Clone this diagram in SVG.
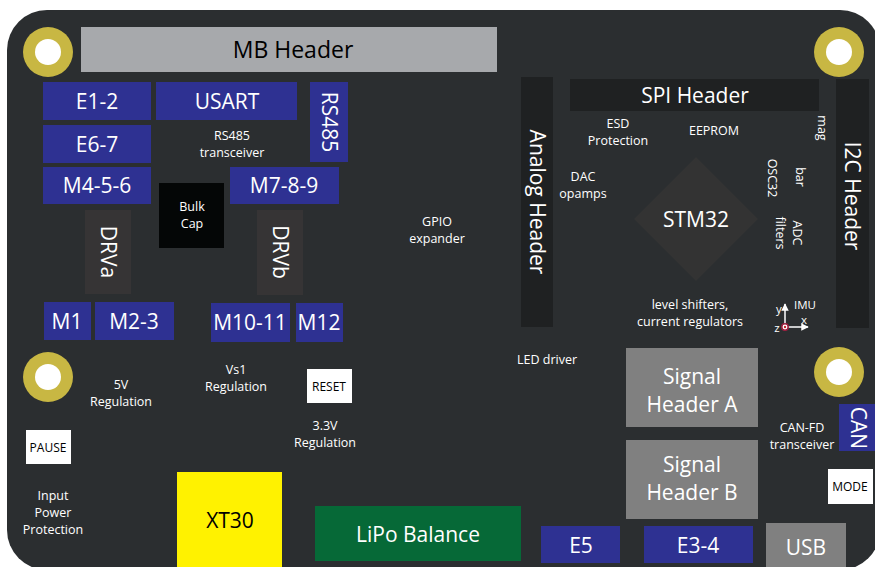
<svg xmlns="http://www.w3.org/2000/svg" width="875" height="567" viewBox="0 0 875 567">
<defs>
<style>
text{font-family:"Open Sans","Noto Sans",sans-serif;fill:#fff;text-anchor:middle}
.big{font-size:21px}
.sm{font-size:12.5px}
.xs{font-size:11.5px}
.blk{fill:#000}
.blue{fill:#2e3192}
.gray{fill:#808080}
.hdr{fill:#1f2122}
.drv{fill:#363435}
.wht{fill:#fff}
.gold{fill:#c8b743}
</style>
<marker id="ah" viewBox="0 0 10 10" refX="9" refY="5" markerWidth="5" markerHeight="5" orient="auto"><path d="M0,0L10,5L0,10z" fill="#fff"/></marker>
</defs>
<rect width="875" height="567" fill="#fff"/>
<rect id="board" x="7" y="10" width="873" height="560" rx="40" fill="#2b2e30"/>

<g id="hole-tl"><circle cx="48" cy="52" r="25" class="gold"/><circle cx="48" cy="52" r="13" class="wht"/></g>
<g id="hole-tr"><circle cx="839" cy="52" r="25" class="gold"/><circle cx="839" cy="52" r="13" class="wht"/></g>
<g id="hole-bl"><circle cx="48" cy="377" r="25" class="gold"/><circle cx="48" cy="377" r="13" class="wht"/></g>
<g id="hole-r"><circle cx="839" cy="372" r="25" class="gold"/><circle cx="839" cy="372" r="13" class="wht"/></g>

<g id="mb-header"><rect x="81" y="27" width="416" height="45" fill="#a7a9ac"/><text x="293" y="58" class="big blk" style="font-size:23px">MB Header</text></g>
<g id="e1-2"><rect x="43" y="82" width="108" height="38" class="blue"/><text x="97" y="109" class="big">E1-2</text></g>
<g id="usart"><rect x="156" y="82" width="141" height="38" class="blue"/><text x="227" y="109" class="big">USART</text></g>
<g id="rs485"><rect x="310" y="82" width="38" height="80" class="blue"/><text transform="translate(329,122) rotate(90)" dy="7" class="big">RS485</text></g>
<g id="e6-7"><rect x="43" y="125" width="108" height="38" class="blue"/><text x="97" y="152" class="big">E6-7</text></g>
<g id="rs485-xcvr"><text x="232" y="140" class="sm">RS485</text><text x="232" y="157" class="sm">transceiver</text></g>
<g id="m4-5-6"><rect x="43" y="167" width="108" height="37" class="blue"/><text x="97" y="193" class="big">M4-5-6</text></g>
<g id="m7-8-9"><rect x="230" y="167" width="109" height="37" class="blue"/><text x="284" y="193" class="big">M7-8-9</text></g>
<g id="bulk-cap"><rect x="159" y="183" width="65" height="65" fill="#040606"/><text x="192" y="211" class="sm">Bulk</text><text x="192" y="228" class="sm">Cap</text></g>
<g id="drva"><rect x="85" y="210" width="46" height="84" class="drv"/><text transform="translate(108,252) rotate(90)" dy="7" class="big">DRVa</text></g>
<g id="drvb"><rect x="257" y="210" width="46" height="85" class="drv"/><text transform="translate(280,252) rotate(90)" dy="7" class="big">DRVb</text></g>
<g id="m1"><rect x="44" y="302" width="47" height="38" class="blue"/><text x="67" y="329" class="big">M1</text></g>
<g id="m2-3"><rect x="95" y="302" width="79" height="38" class="blue"/><text x="134" y="329" class="big">M2-3</text></g>
<g id="m10-11"><rect x="211" y="303" width="79" height="39" class="blue"/><text x="250" y="330" class="big">M10-11</text></g>
<g id="m12"><rect x="296" y="303" width="47" height="39" class="blue"/><text x="319" y="330" class="big">M12</text></g>
<g id="gpio"><text x="437" y="226" class="sm">GPIO</text><text x="437" y="243" class="sm">expander</text></g>

<g id="analog-header"><rect x="521" y="77" width="32" height="250" class="hdr"/><text transform="translate(537,202) rotate(90)" dy="7" class="big">Analog Header</text></g>
<g id="spi-header"><rect x="570" y="79" width="249" height="32" class="hdr"/><text x="695" y="103" class="big">SPI Header</text></g>
<g id="i2c-header"><rect x="836" y="79" width="33" height="249" class="hdr"/><text transform="translate(852,196) rotate(90)" dy="7" class="big">I2C Header</text></g>
<g id="esd"><text x="618" y="128" class="sm">ESD</text><text x="618" y="145" class="sm">Protection</text></g>
<g id="eeprom"><text x="714" y="135" class="sm">EEPROM</text></g>
<g id="mag"><text transform="translate(822,128) rotate(90)" dy="4" class="sm">mag</text></g>
<g id="dac"><text x="583" y="181" class="sm">DAC</text><text x="583" y="198" class="sm">opamps</text></g>
<g id="osc32"><text transform="translate(772,178) rotate(90)" dy="4" class="sm">OSC32</text></g>
<g id="bar"><text transform="translate(800,177) rotate(90)" dy="4" class="sm">bar</text></g>
<g id="adc"><text transform="translate(797,233) rotate(90)" dy="4" class="sm">ADC</text><text transform="translate(780,233) rotate(90)" dy="4" class="sm">filters</text></g>
<g id="stm32"><path d="M696,157L758,219L696,281L634,219z" fill="#333333"/><text x="696" y="227" class="big">STM32</text></g>
<g id="level"><text x="690" y="309" class="sm">level shifters,</text><text x="690" y="326" class="sm">current regulators</text></g>
<g id="imu">
<line x1="785" y1="324" x2="785" y2="304" stroke="#fff" stroke-width="1.5" marker-end="url(#ah)"/>
<line x1="788" y1="327" x2="808" y2="327" stroke="#fff" stroke-width="1.5" marker-end="url(#ah)"/>
<circle cx="785" cy="327" r="3.2" fill="#fff" stroke="#9e1f3f" stroke-width="1.5"/><circle cx="785" cy="327" r="1.2" fill="#c1272d"/>
<text x="779" y="313" class="xs">y</text><text x="777" y="332" class="xs">z</text><text x="804" y="324" class="xs">x</text><text x="805" y="309" class="xs">IMU</text>
</g>

<g id="led"><text x="547" y="364" class="sm">LED driver</text></g>
<g id="sig-a"><rect x="626" y="348" width="132" height="79" class="gray"/><text x="692" y="384" class="big">Signal</text><text x="692" y="412" class="big">Header A</text></g>
<g id="sig-b"><rect x="626" y="440" width="132" height="79" class="gray"/><text x="692" y="472" class="big">Signal</text><text x="692" y="500" class="big">Header B</text></g>
<g id="can"><rect x="839" y="404" width="40" height="47" class="blue"/><text transform="translate(858,428) rotate(90)" dy="7" class="big">CAN</text></g>
<g id="canfd"><text x="802" y="432" class="sm">CAN-FD</text><text x="802" y="449" class="sm">transceiver</text></g>
<g id="mode"><rect x="828" y="469" width="45" height="35" class="wht"/><text x="850" y="491" class="sm blk" style="font-size:12px">MODE</text></g>
<g id="e5"><rect x="541" y="526" width="79" height="37" class="blue"/><text x="581" y="553" class="big">E5</text></g>
<g id="e3-4"><rect x="644" y="526" width="109" height="37" class="blue"/><text x="698" y="553" class="big">E3-4</text></g>
<g id="usb"><rect x="766" y="523" width="80" height="50" class="gray"/><text x="806" y="555" class="big">USB</text></g>
<g id="lipo"><rect x="315" y="506" width="206" height="55" fill="#066937"/><text x="418" y="542" class="big">LiPo Balance</text></g>
<g id="xt30"><rect x="177" y="472" width="105" height="100" fill="#fff200"/><text x="230" y="528" class="big blk">XT30</text></g>
<g id="pause"><rect x="26" y="430" width="45" height="34" class="wht"/><text x="48" y="452" class="sm blk" style="font-size:12px">PAUSE</text></g>
<g id="input-prot"><text x="53" y="500" class="sm">Input</text><text x="53" y="517" class="sm">Power</text><text x="53" y="534" class="sm">Protection</text></g>
<g id="reg5v"><text x="121" y="389" class="sm">5V</text><text x="121" y="406" class="sm">Regulation</text></g>
<g id="vs1"><text x="236" y="374" class="sm">Vs1</text><text x="236" y="391" class="sm">Regulation</text></g>
<g id="reset"><rect x="307" y="369" width="45" height="34" class="wht"/><text x="329" y="391" class="sm blk" style="font-size:12px">RESET</text></g>
<g id="reg33"><text x="325" y="430" class="sm">3.3V</text><text x="325" y="447" class="sm">Regulation</text></g>
</svg>
